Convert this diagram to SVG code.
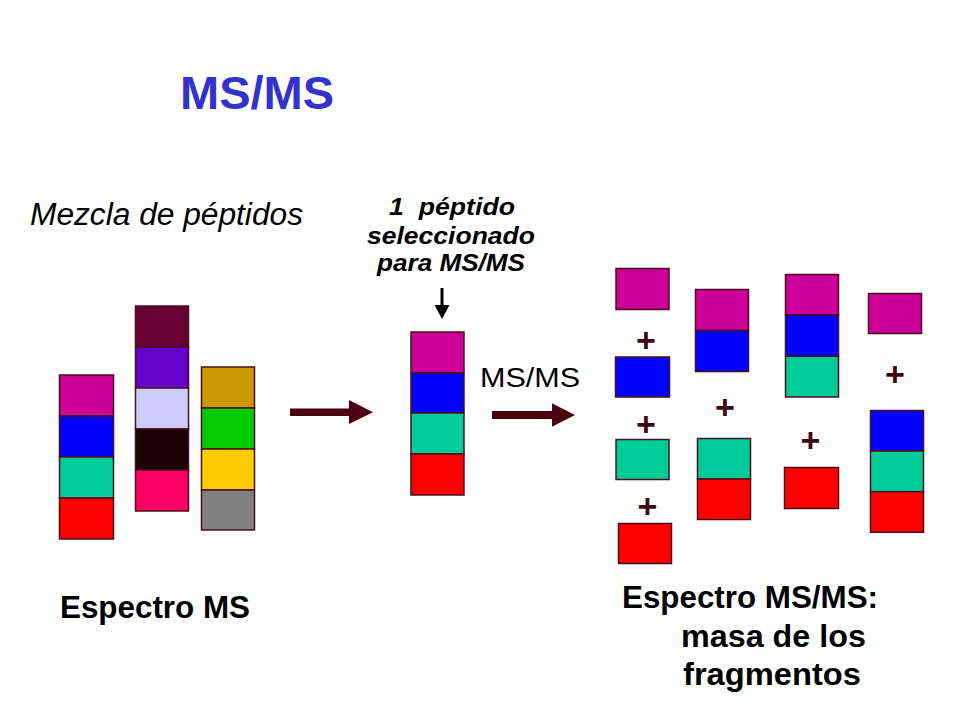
<svg xmlns="http://www.w3.org/2000/svg" width="960" height="720" viewBox="0 0 960 720">
<defs>
<style>
.b{stroke:#4a0f1c;stroke-width:1.5}
.mg{fill:#CC0099}.bl{fill:#0000FF}.tl{fill:#00CC99}.rd{fill:#FF0000}
.plus{font-family:"Liberation Sans",Arial,sans-serif;font-weight:bold;font-size:34px;fill:#3d0a14;text-anchor:middle}
.lbl{font-family:"Liberation Sans",Arial,sans-serif;fill:#000}
.bold{font-weight:bold}
.arr{fill:#4a0012}
</style>
</defs>
<rect width="960" height="720" fill="#fff"/>
<g id="title"><text class="lbl bold" x="180" y="109" font-size="47" style="fill:#3333CC">MS/MS</text></g>
<g id="mezcla-label"><text class="lbl" x="30" y="225" font-size="31" font-style="italic" textLength="273" lengthAdjust="spacingAndGlyphs">Mezcla de péptidos</text></g>
<g id="mixture-col1">
<rect class="b mg" x="59.5" y="375" width="54" height="41"/>
<rect class="b bl" x="59.5" y="416" width="54" height="41"/>
<rect class="b tl" x="59.5" y="457" width="54" height="41"/>
<rect class="b rd" x="59.5" y="498" width="54" height="41"/>
</g>
<g id="mixture-col2">
<rect class="b" fill="#660033" x="135.5" y="306" width="53" height="41"/>
<rect class="b" fill="#6600CC" x="135.5" y="347" width="53" height="41"/>
<rect class="b" fill="#CCCCFF" x="135.5" y="388" width="53" height="41"/>
<rect class="b" fill="#1a0000" x="135.5" y="429" width="53" height="41"/>
<rect class="b" fill="#FF0066" x="135.5" y="470" width="53" height="41"/>
</g>
<g id="mixture-col3">
<rect class="b" fill="#CC9900" x="201.5" y="367" width="53" height="41"/>
<rect class="b" fill="#00CC00" x="201.5" y="408" width="53" height="41"/>
<rect class="b" fill="#FFCC00" x="201.5" y="449" width="53" height="41"/>
<rect class="b" fill="#808080" x="201.5" y="490" width="53" height="40"/>
</g>
<g id="espectro-ms-label"><text class="lbl bold" x="60" y="618" font-size="32" textLength="190" lengthAdjust="spacingAndGlyphs">Espectro MS</text></g>
<g id="selected-label" class="lbl bold" font-size="24.5" font-style="italic" text-anchor="middle">
<text x="452" y="215" xml:space="preserve" textLength="126" lengthAdjust="spacingAndGlyphs">1  péptido</text>
<text x="451" y="244" textLength="168" lengthAdjust="spacingAndGlyphs">seleccionado</text>
<text x="451" y="271" textLength="148" lengthAdjust="spacingAndGlyphs">para MS/MS</text>
</g>
<g id="selected-peptide">
<rect class="b mg" x="411" y="332" width="53" height="41"/>
<rect class="b bl" x="411" y="373" width="53" height="40"/>
<rect class="b tl" x="411" y="413" width="53" height="41"/>
<rect class="b rd" x="411" y="454" width="53" height="41"/>
</g>
<g id="msms-label"><text class="lbl" x="480" y="387" font-size="28" textLength="100" lengthAdjust="spacingAndGlyphs">MS/MS</text></g>
<g id="fragments-a">
<rect class="b mg" x="616" y="268.5" width="53" height="41"/>
<text class="plus" x="646" y="352">+</text>
<rect class="b bl" x="615.5" y="357" width="54" height="40"/>
<text class="plus" x="646" y="436">+</text>
<rect class="b tl" x="616" y="439.5" width="53" height="40"/>
<text class="plus" x="647.5" y="517.5">+</text>
<rect class="b rd" x="618.5" y="523.5" width="53" height="40"/>
</g>
<g id="fragments-b">
<rect class="b mg" x="695.5" y="289.5" width="53" height="41"/>
<rect class="b bl" x="695.5" y="330.5" width="53" height="41"/>
<text class="plus" x="725" y="419">+</text>
<rect class="b tl" x="697.5" y="438.5" width="53" height="40.5"/>
<rect class="b rd" x="697.5" y="479" width="53" height="40.5"/>
</g>
<g id="fragments-c">
<rect class="b mg" x="785.5" y="274.5" width="53" height="40.5"/>
<rect class="b bl" x="785.5" y="315" width="53" height="41.3"/>
<rect class="b tl" x="785.5" y="356.3" width="53" height="40.7"/>
<text class="plus" x="810.5" y="452">+</text>
<rect class="b rd" x="784.5" y="467.5" width="54" height="41"/>
</g>
<g id="fragments-d">
<rect class="b mg" x="868.5" y="293.5" width="53" height="40"/>
<text class="plus" x="895" y="386">+</text>
<rect class="b bl" x="870.5" y="410.5" width="53" height="40.5"/>
<rect class="b tl" x="870.5" y="451" width="53" height="40.7"/>
<rect class="b rd" x="870.5" y="491.7" width="53" height="40.6"/>
</g>
<g id="espectro-msms-label" class="lbl bold" font-size="32">
<text x="622" y="608" textLength="256" lengthAdjust="spacingAndGlyphs">Espectro MS/MS:</text>
<text x="681" y="647" textLength="185" lengthAdjust="spacingAndGlyphs">masa de los</text>
<text x="683" y="685" textLength="178" lengthAdjust="spacingAndGlyphs">fragmentos</text>
</g>
<g id="connectors">
<polygon class="arr" points="290,408.5 349,408.5 349,400 373,412.3 349,424 349,416 290,416"/>
<polygon class="arr" points="492,411 552,411 552,403.3 575,415 552,426.7 552,419 492,419"/>
<line x1="442" y1="288" x2="442" y2="306" stroke="#000" stroke-width="3"/>
<polygon points="434.5,305 449.5,305 442,319" fill="#000"/>
</g>
</svg>
